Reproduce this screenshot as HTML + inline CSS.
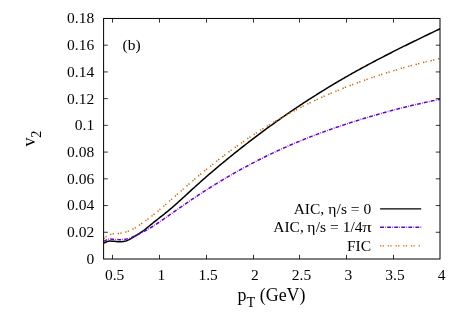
<!DOCTYPE html>
<html><head><meta charset="utf-8"><title>v2 vs pT</title>
<style>
html,body{margin:0;padding:0;background:#fff;}
body{width:463px;height:324px;overflow:hidden;position:relative;font-family:"Liberation Serif",serif;}
</style></head><body>
<svg width="463" height="324" viewBox="0 0 463 324" style="position:absolute;left:0;top:0;will-change:transform">
<rect width="463" height="324" fill="#fff"/>
<path d="M112.50,259.0 v-4.2 M112.50,18.45 v4.2 M159.50,259.0 v-4.2 M159.50,18.45 v4.2 M206.50,259.0 v-4.2 M206.50,18.45 v4.2 M253.50,259.0 v-4.2 M253.50,18.45 v4.2 M299.50,259.0 v-4.2 M299.50,18.45 v4.2 M346.50,259.0 v-4.2 M346.50,18.45 v4.2 M393.50,259.0 v-4.2 M393.50,18.45 v4.2 M103.6,232.27 h4.2 M440.0,232.27 h-4.2 M103.6,205.54 h4.2 M440.0,205.54 h-4.2 M103.6,178.82 h4.2 M440.0,178.82 h-4.2 M103.6,152.09 h4.2 M440.0,152.09 h-4.2 M103.6,125.36 h4.2 M440.0,125.36 h-4.2 M103.6,98.63 h4.2 M440.0,98.63 h-4.2 M103.6,71.91 h4.2 M440.0,71.91 h-4.2 M103.6,45.18 h4.2 M440.0,45.18 h-4.2" stroke="#000" stroke-width="0.8" fill="none"/>
<path d="M103.60,243.02 L104.60,242.70 L105.60,242.27 L106.60,241.80 L107.60,241.40 L108.60,241.16 L109.60,241.08 L110.60,241.10 L111.60,241.18 L112.60,241.25 L113.60,241.31 L114.60,241.37 L115.60,241.44 L116.60,241.54 L117.60,241.66 L118.60,241.76 L119.60,241.81 L120.60,241.80 L121.60,241.71 L122.60,241.57 L123.60,241.39 L124.60,241.19 L125.60,240.97 L126.60,240.70 L127.60,240.36 L128.60,239.92 L129.60,239.40 L130.60,238.83 L131.60,238.22 L132.60,237.62 L133.60,237.03 L134.60,236.44 L135.60,235.85 L136.60,235.25 L137.60,234.63 L138.60,234.00 L139.60,233.35 L140.60,232.67 L141.60,231.98 L142.60,231.26 L143.60,230.51 L144.60,229.75 L145.60,228.97 L146.60,228.17 L147.60,227.36 L148.60,226.54 L149.60,225.72 L150.60,224.89 L151.60,224.07 L152.60,223.26 L153.60,222.45 L154.60,221.65 L155.60,220.86 L156.60,220.07 L157.60,219.28 L158.60,218.49 L159.60,217.70 L160.60,216.92 L161.60,216.13 L162.60,215.34 L163.60,214.55 L164.60,213.75 L165.60,212.94 L166.60,212.13 L167.60,211.32 L168.60,210.49 L169.60,209.65 L170.60,208.81 L171.60,207.96 L172.60,207.09 L173.60,206.23 L174.60,205.35 L175.60,204.47 L176.60,203.59 L177.60,202.69 L178.60,201.80 L179.60,200.90 L180.60,199.99 L181.60,199.09 L182.60,198.17 L183.60,197.26 L184.60,196.35 L185.60,195.43 L186.60,194.51 L187.60,193.59 L188.60,192.67 L189.60,191.76 L190.60,190.84 L191.60,189.92 L192.60,189.01 L193.60,188.10 L194.60,187.19 L195.60,186.28 L196.60,185.38 L197.60,184.48 L198.60,183.58 L199.60,182.69 L200.60,181.80 L201.60,180.91 L202.60,180.03 L203.60,179.15 L204.60,178.27 L205.60,177.39 L206.60,176.52 L207.60,175.65 L208.60,174.79 L209.60,173.93 L210.60,173.07 L211.60,172.21 L212.60,171.35 L213.60,170.50 L214.60,169.65 L215.60,168.81 L216.60,167.96 L217.60,167.12 L218.60,166.28 L219.60,165.45 L220.60,164.62 L221.60,163.79 L222.60,162.96 L223.60,162.13 L224.60,161.31 L225.60,160.49 L226.60,159.67 L227.60,158.85 L228.60,158.04 L229.60,157.23 L230.60,156.42 L231.60,155.61 L232.60,154.81 L233.60,154.00 L234.60,153.20 L235.60,152.40 L236.60,151.61 L237.60,150.81 L238.60,150.02 L239.60,149.23 L240.60,148.44 L241.60,147.66 L242.60,146.87 L243.60,146.09 L244.60,145.31 L245.60,144.53 L246.60,143.76 L247.60,142.98 L248.60,142.21 L249.60,141.44 L250.60,140.67 L251.60,139.91 L252.60,139.14 L253.60,138.38 L254.60,137.62 L255.60,136.87 L256.60,136.11 L257.60,135.36 L258.60,134.61 L259.60,133.86 L260.60,133.11 L261.60,132.37 L262.60,131.62 L263.60,130.88 L264.60,130.14 L265.60,129.41 L266.60,128.67 L267.60,127.94 L268.60,127.21 L269.60,126.48 L270.60,125.76 L271.60,125.03 L272.60,124.31 L273.60,123.59 L274.60,122.87 L275.60,122.16 L276.60,121.45 L277.60,120.73 L278.60,120.03 L279.60,119.32 L280.60,118.61 L281.60,117.91 L282.60,117.21 L283.60,116.51 L284.60,115.81 L285.60,115.12 L286.60,114.43 L287.60,113.74 L288.60,113.05 L289.60,112.36 L290.60,111.68 L291.60,111.00 L292.60,110.32 L293.60,109.64 L294.60,108.97 L295.60,108.29 L296.60,107.62 L297.60,106.95 L298.60,106.28 L299.60,105.62 L300.60,104.96 L301.60,104.30 L302.60,103.64 L303.60,102.98 L304.60,102.33 L305.60,101.67 L306.60,101.02 L307.60,100.37 L308.60,99.73 L309.60,99.08 L310.60,98.44 L311.60,97.80 L312.60,97.16 L313.60,96.52 L314.60,95.89 L315.60,95.26 L316.60,94.63 L317.60,94.00 L318.60,93.37 L319.60,92.75 L320.60,92.12 L321.60,91.50 L322.60,90.88 L323.60,90.27 L324.60,89.65 L325.60,89.04 L326.60,88.43 L327.60,87.82 L328.60,87.21 L329.60,86.61 L330.60,86.00 L331.60,85.40 L332.60,84.80 L333.60,84.20 L334.60,83.61 L335.60,83.01 L336.60,82.42 L337.60,81.83 L338.60,81.24 L339.60,80.66 L340.60,80.07 L341.60,79.49 L342.60,78.91 L343.60,78.33 L344.60,77.75 L345.60,77.18 L346.60,76.61 L347.60,76.03 L348.60,75.46 L349.60,74.90 L350.60,74.33 L351.60,73.77 L352.60,73.20 L353.60,72.64 L354.60,72.08 L355.60,71.53 L356.60,70.97 L357.60,70.42 L358.60,69.87 L359.60,69.32 L360.60,68.77 L361.60,68.22 L362.60,67.67 L363.60,67.13 L364.60,66.59 L365.60,66.05 L366.60,65.51 L367.60,64.97 L368.60,64.43 L369.60,63.90 L370.60,63.36 L371.60,62.83 L372.60,62.30 L373.60,61.77 L374.60,61.24 L375.60,60.72 L376.60,60.19 L377.60,59.67 L378.60,59.14 L379.60,58.62 L380.60,58.10 L381.60,57.58 L382.60,57.07 L383.60,56.55 L384.60,56.04 L385.60,55.52 L386.60,55.01 L387.60,54.50 L388.60,53.99 L389.60,53.48 L390.60,52.97 L391.60,52.46 L392.60,51.95 L393.60,51.45 L394.60,50.94 L395.60,50.44 L396.60,49.94 L397.60,49.44 L398.60,48.94 L399.60,48.44 L400.60,47.94 L401.60,47.44 L402.60,46.94 L403.60,46.45 L404.60,45.95 L405.60,45.46 L406.60,44.96 L407.60,44.47 L408.60,43.98 L409.60,43.49 L410.60,43.00 L411.60,42.51 L412.60,42.02 L413.60,41.53 L414.60,41.04 L415.60,40.55 L416.60,40.07 L417.60,39.58 L418.60,39.09 L419.60,38.61 L420.60,38.12 L421.60,37.64 L422.60,37.16 L423.60,36.67 L424.60,36.19 L425.60,35.71 L426.60,35.23 L427.60,34.75 L428.60,34.26 L429.60,33.78 L430.60,33.30 L431.60,32.82 L432.60,32.34 L433.60,31.86 L434.60,31.38 L435.60,30.90 L436.60,30.43 L437.60,29.95 L438.60,29.47 L439.60,28.99 L440.00,28.80" stroke="#000" stroke-width="1.5" fill="none"/>
<path d="M103.60,241.34 L104.60,240.92 L105.60,240.42 L106.60,239.92 L107.60,239.49 L108.60,239.22 L109.60,239.11 L110.60,239.10 L111.60,239.16 L112.60,239.23 L113.60,239.30 L114.60,239.37 L115.60,239.44 L116.60,239.51 L117.60,239.58 L118.60,239.63 L119.60,239.65 L120.60,239.65 L121.60,239.61 L122.60,239.54 L123.60,239.45 L124.60,239.35 L125.60,239.23 L126.60,239.08 L127.60,238.87 L128.60,238.60 L129.60,238.26 L130.60,237.87 L131.60,237.43 L132.60,236.95 L133.60,236.46 L134.60,235.95 L135.60,235.44 L136.60,234.94 L137.60,234.46 L138.60,233.99 L139.60,233.54 L140.60,233.08 L141.60,232.63 L142.60,232.16 L143.60,231.67 L144.60,231.17 L145.60,230.64 L146.60,230.09 L147.60,229.53 L148.60,228.95 L149.60,228.36 L150.60,227.75 L151.60,227.13 L152.60,226.51 L153.60,225.87 L154.60,225.23 L155.60,224.57 L156.60,223.91 L157.60,223.25 L158.60,222.57 L159.60,221.90 L160.60,221.21 L161.60,220.52 L162.60,219.83 L163.60,219.14 L164.60,218.44 L165.60,217.74 L166.60,217.04 L167.60,216.34 L168.60,215.64 L169.60,214.93 L170.60,214.23 L171.60,213.53 L172.60,212.82 L173.60,212.12 L174.60,211.42 L175.60,210.72 L176.60,210.02 L177.60,209.32 L178.60,208.62 L179.60,207.92 L180.60,207.22 L181.60,206.53 L182.60,205.83 L183.60,205.14 L184.60,204.45 L185.60,203.76 L186.60,203.07 L187.60,202.38 L188.60,201.70 L189.60,201.01 L190.60,200.33 L191.60,199.65 L192.60,198.98 L193.60,198.30 L194.60,197.63 L195.60,196.96 L196.60,196.30 L197.60,195.63 L198.60,194.97 L199.60,194.31 L200.60,193.66 L201.60,193.01 L202.60,192.36 L203.60,191.71 L204.60,191.06 L205.60,190.42 L206.60,189.78 L207.60,189.15 L208.60,188.51 L209.60,187.88 L210.60,187.25 L211.60,186.62 L212.60,186.00 L213.60,185.38 L214.60,184.76 L215.60,184.14 L216.60,183.53 L217.60,182.92 L218.60,182.31 L219.60,181.71 L220.60,181.10 L221.60,180.50 L222.60,179.90 L223.60,179.31 L224.60,178.71 L225.60,178.12 L226.60,177.54 L227.60,176.95 L228.60,176.37 L229.60,175.79 L230.60,175.21 L231.60,174.63 L232.60,174.06 L233.60,173.49 L234.60,172.92 L235.60,172.35 L236.60,171.79 L237.60,171.23 L238.60,170.67 L239.60,170.12 L240.60,169.56 L241.60,169.01 L242.60,168.46 L243.60,167.92 L244.60,167.37 L245.60,166.83 L246.60,166.29 L247.60,165.76 L248.60,165.22 L249.60,164.69 L250.60,164.16 L251.60,163.63 L252.60,163.11 L253.60,162.59 L254.60,162.07 L255.60,161.55 L256.60,161.04 L257.60,160.52 L258.60,160.02 L259.60,159.51 L260.60,159.00 L261.60,158.50 L262.60,158.00 L263.60,157.50 L264.60,157.01 L265.60,156.51 L266.60,156.02 L267.60,155.54 L268.60,155.05 L269.60,154.57 L270.60,154.09 L271.60,153.61 L272.60,153.13 L273.60,152.66 L274.60,152.19 L275.60,151.72 L276.60,151.25 L277.60,150.79 L278.60,150.33 L279.60,149.87 L280.60,149.41 L281.60,148.95 L282.60,148.50 L283.60,148.05 L284.60,147.60 L285.60,147.16 L286.60,146.72 L287.60,146.28 L288.60,145.84 L289.60,145.40 L290.60,144.97 L291.60,144.54 L292.60,144.11 L293.60,143.68 L294.60,143.26 L295.60,142.84 L296.60,142.42 L297.60,142.00 L298.60,141.59 L299.60,141.17 L300.60,140.76 L301.60,140.35 L302.60,139.95 L303.60,139.54 L304.60,139.14 L305.60,138.74 L306.60,138.34 L307.60,137.95 L308.60,137.55 L309.60,137.16 L310.60,136.77 L311.60,136.39 L312.60,136.00 L313.60,135.62 L314.60,135.23 L315.60,134.85 L316.60,134.48 L317.60,134.10 L318.60,133.73 L319.60,133.35 L320.60,132.98 L321.60,132.62 L322.60,132.25 L323.60,131.88 L324.60,131.52 L325.60,131.16 L326.60,130.80 L327.60,130.44 L328.60,130.09 L329.60,129.73 L330.60,129.38 L331.60,129.03 L332.60,128.68 L333.60,128.33 L334.60,127.98 L335.60,127.64 L336.60,127.30 L337.60,126.96 L338.60,126.62 L339.60,126.28 L340.60,125.94 L341.60,125.61 L342.60,125.27 L343.60,124.94 L344.60,124.61 L345.60,124.28 L346.60,123.95 L347.60,123.62 L348.60,123.30 L349.60,122.97 L350.60,122.65 L351.60,122.33 L352.60,122.01 L353.60,121.69 L354.60,121.37 L355.60,121.06 L356.60,120.74 L357.60,120.43 L358.60,120.12 L359.60,119.81 L360.60,119.50 L361.60,119.19 L362.60,118.88 L363.60,118.58 L364.60,118.28 L365.60,117.97 L366.60,117.67 L367.60,117.37 L368.60,117.07 L369.60,116.78 L370.60,116.48 L371.60,116.19 L372.60,115.89 L373.60,115.60 L374.60,115.31 L375.60,115.02 L376.60,114.74 L377.60,114.45 L378.60,114.16 L379.60,113.88 L380.60,113.60 L381.60,113.32 L382.60,113.04 L383.60,112.76 L384.60,112.48 L385.60,112.21 L386.60,111.94 L387.60,111.66 L388.60,111.39 L389.60,111.12 L390.60,110.85 L391.60,110.59 L392.60,110.32 L393.60,110.06 L394.60,109.79 L395.60,109.53 L396.60,109.27 L397.60,109.01 L398.60,108.76 L399.60,108.50 L400.60,108.25 L401.60,107.99 L402.60,107.74 L403.60,107.49 L404.60,107.24 L405.60,106.99 L406.60,106.75 L407.60,106.50 L408.60,106.26 L409.60,106.02 L410.60,105.78 L411.60,105.54 L412.60,105.30 L413.60,105.06 L414.60,104.83 L415.60,104.59 L416.60,104.36 L417.60,104.13 L418.60,103.90 L419.60,103.67 L420.60,103.45 L421.60,103.22 L422.60,103.00 L423.60,102.77 L424.60,102.55 L425.60,102.33 L426.60,102.12 L427.60,101.90 L428.60,101.68 L429.60,101.47 L430.60,101.26 L431.60,101.05 L432.60,100.84 L433.60,100.63 L434.60,100.42 L435.60,100.21 L436.60,100.01 L437.60,99.81 L438.60,99.61 L439.60,99.41 L440.00,99.33" stroke="#6600cc" stroke-width="1.5" fill="none" stroke-dasharray="3.852 1.284 0.642 1.284"/>
<path d="M103.60,238.59 L104.60,237.76 L105.60,237.01 L106.60,236.34 L107.60,235.75 L108.60,235.24 L109.60,234.82 L110.60,234.47 L111.60,234.19 L112.60,233.98 L113.60,233.83 L114.60,233.72 L115.60,233.64 L116.60,233.58 L117.60,233.52 L118.60,233.46 L119.60,233.38 L120.60,233.26 L121.60,233.11 L122.60,232.92 L123.60,232.70 L124.60,232.43 L125.60,232.13 L126.60,231.80 L127.60,231.43 L128.60,231.04 L129.60,230.63 L130.60,230.19 L131.60,229.71 L132.60,229.21 L133.60,228.68 L134.60,228.12 L135.60,227.54 L136.60,226.93 L137.60,226.31 L138.60,225.67 L139.60,225.02 L140.60,224.35 L141.60,223.66 L142.60,222.97 L143.60,222.26 L144.60,221.55 L145.60,220.82 L146.60,220.08 L147.60,219.33 L148.60,218.58 L149.60,217.81 L150.60,217.03 L151.60,216.25 L152.60,215.45 L153.60,214.65 L154.60,213.84 L155.60,213.02 L156.60,212.20 L157.60,211.37 L158.60,210.53 L159.60,209.68 L160.60,208.83 L161.60,207.98 L162.60,207.12 L163.60,206.26 L164.60,205.39 L165.60,204.53 L166.60,203.66 L167.60,202.78 L168.60,201.91 L169.60,201.03 L170.60,200.16 L171.60,199.28 L172.60,198.40 L173.60,197.52 L174.60,196.64 L175.60,195.77 L176.60,194.89 L177.60,194.01 L178.60,193.13 L179.60,192.25 L180.60,191.37 L181.60,190.50 L182.60,189.62 L183.60,188.75 L184.60,187.87 L185.60,187.00 L186.60,186.13 L187.60,185.26 L188.60,184.39 L189.60,183.53 L190.60,182.66 L191.60,181.80 L192.60,180.95 L193.60,180.09 L194.60,179.24 L195.60,178.39 L196.60,177.54 L197.60,176.70 L198.60,175.86 L199.60,175.02 L200.60,174.18 L201.60,173.35 L202.60,172.53 L203.60,171.70 L204.60,170.88 L205.60,170.06 L206.60,169.24 L207.60,168.43 L208.60,167.62 L209.60,166.82 L210.60,166.01 L211.60,165.21 L212.60,164.42 L213.60,163.63 L214.60,162.84 L215.60,162.05 L216.60,161.27 L217.60,160.49 L218.60,159.71 L219.60,158.94 L220.60,158.17 L221.60,157.40 L222.60,156.64 L223.60,155.88 L224.60,155.12 L225.60,154.37 L226.60,153.62 L227.60,152.87 L228.60,152.13 L229.60,151.39 L230.60,150.65 L231.60,149.92 L232.60,149.19 L233.60,148.47 L234.60,147.74 L235.60,147.02 L236.60,146.31 L237.60,145.60 L238.60,144.89 L239.60,144.18 L240.60,143.48 L241.60,142.79 L242.60,142.09 L243.60,141.40 L244.60,140.71 L245.60,140.03 L246.60,139.35 L247.60,138.67 L248.60,138.00 L249.60,137.33 L250.60,136.66 L251.60,136.00 L252.60,135.34 L253.60,134.68 L254.60,134.03 L255.60,133.38 L256.60,132.73 L257.60,132.09 L258.60,131.45 L259.60,130.81 L260.60,130.17 L261.60,129.54 L262.60,128.92 L263.60,128.29 L264.60,127.67 L265.60,127.06 L266.60,126.44 L267.60,125.83 L268.60,125.22 L269.60,124.62 L270.60,124.02 L271.60,123.42 L272.60,122.83 L273.60,122.23 L274.60,121.65 L275.60,121.06 L276.60,120.48 L277.60,119.90 L278.60,119.32 L279.60,118.75 L280.60,118.18 L281.60,117.62 L282.60,117.05 L283.60,116.49 L284.60,115.94 L285.60,115.38 L286.60,114.83 L287.60,114.28 L288.60,113.74 L289.60,113.20 L290.60,112.66 L291.60,112.12 L292.60,111.59 L293.60,111.06 L294.60,110.53 L295.60,110.01 L296.60,109.49 L297.60,108.97 L298.60,108.46 L299.60,107.95 L300.60,107.44 L301.60,106.93 L302.60,106.43 L303.60,105.93 L304.60,105.43 L305.60,104.93 L306.60,104.44 L307.60,103.95 L308.60,103.47 L309.60,102.98 L310.60,102.50 L311.60,102.02 L312.60,101.55 L313.60,101.08 L314.60,100.61 L315.60,100.14 L316.60,99.67 L317.60,99.21 L318.60,98.75 L319.60,98.30 L320.60,97.84 L321.60,97.39 L322.60,96.94 L323.60,96.49 L324.60,96.05 L325.60,95.61 L326.60,95.17 L327.60,94.73 L328.60,94.30 L329.60,93.87 L330.60,93.44 L331.60,93.01 L332.60,92.58 L333.60,92.16 L334.60,91.74 L335.60,91.32 L336.60,90.91 L337.60,90.50 L338.60,90.09 L339.60,89.68 L340.60,89.27 L341.60,88.87 L342.60,88.47 L343.60,88.07 L344.60,87.67 L345.60,87.28 L346.60,86.88 L347.60,86.49 L348.60,86.10 L349.60,85.72 L350.60,85.33 L351.60,84.95 L352.60,84.57 L353.60,84.19 L354.60,83.82 L355.60,83.44 L356.60,83.07 L357.60,82.70 L358.60,82.34 L359.60,81.97 L360.60,81.61 L361.60,81.25 L362.60,80.89 L363.60,80.53 L364.60,80.17 L365.60,79.82 L366.60,79.47 L367.60,79.12 L368.60,78.77 L369.60,78.42 L370.60,78.08 L371.60,77.74 L372.60,77.40 L373.60,77.06 L374.60,76.73 L375.60,76.39 L376.60,76.06 L377.60,75.73 L378.60,75.40 L379.60,75.07 L380.60,74.75 L381.60,74.42 L382.60,74.10 L383.60,73.78 L384.60,73.47 L385.60,73.15 L386.60,72.84 L387.60,72.52 L388.60,72.21 L389.60,71.91 L390.60,71.60 L391.60,71.29 L392.60,70.99 L393.60,70.69 L394.60,70.39 L395.60,70.09 L396.60,69.79 L397.60,69.50 L398.60,69.21 L399.60,68.91 L400.60,68.62 L401.60,68.34 L402.60,68.05 L403.60,67.76 L404.60,67.48 L405.60,67.20 L406.60,66.92 L407.60,66.64 L408.60,66.36 L409.60,66.09 L410.60,65.82 L411.60,65.54 L412.60,65.27 L413.60,65.00 L414.60,64.74 L415.60,64.47 L416.60,64.21 L417.60,63.94 L418.60,63.68 L419.60,63.42 L420.60,63.16 L421.60,62.91 L422.60,62.65 L423.60,62.40 L424.60,62.15 L425.60,61.89 L426.60,61.64 L427.60,61.40 L428.60,61.15 L429.60,60.90 L430.60,60.66 L431.60,60.42 L432.60,60.18 L433.60,59.94 L434.60,59.70 L435.60,59.46 L436.60,59.23 L437.60,58.99 L438.60,58.76 L439.60,58.53 L440.00,58.43" stroke="#cc6600" stroke-width="1.5" fill="none" stroke-dasharray="1.284 1.284 1.284 3.852"/>
<path d="M380.1,208.8 H421.2" stroke="#000" stroke-width="1.35" fill="none"/>
<path d="M380.1,227.2 H421.2" stroke="#6600cc" stroke-width="1.35" fill="none" stroke-dasharray="3.852 1.284 0.642 1.284"/>
<path d="M380.1,245.8 H421.2" stroke="#cc6600" stroke-width="1.35" fill="none" stroke-dasharray="1.284 1.284 1.284 3.852"/>
<rect x="103.6" y="18.45" width="336.40" height="240.55" fill="none" stroke="#000" stroke-width="1"/>
<g font-family="Liberation Serif, serif" font-size="15.5" fill="#000">
<text x="94.2" y="263.90" text-anchor="end">0</text>
<text x="94.2" y="237.17" text-anchor="end">0.02</text>
<text x="94.2" y="210.44" text-anchor="end">0.04</text>
<text x="94.2" y="183.72" text-anchor="end">0.06</text>
<text x="94.2" y="156.99" text-anchor="end">0.08</text>
<text x="94.2" y="130.26" text-anchor="end">0.1</text>
<text x="94.2" y="103.53" text-anchor="end">0.12</text>
<text x="94.2" y="76.81" text-anchor="end">0.14</text>
<text x="94.2" y="50.08" text-anchor="end">0.16</text>
<text x="94.2" y="23.35" text-anchor="end">0.18</text>
<text x="114.64" y="280.2" text-anchor="middle">0.5</text>
<text x="161.37" y="280.2" text-anchor="middle">1</text>
<text x="208.09" y="280.2" text-anchor="middle">1.5</text>
<text x="254.81" y="280.2" text-anchor="middle">2</text>
<text x="301.53" y="280.2" text-anchor="middle">2.5</text>
<text x="348.26" y="280.2" text-anchor="middle">3</text>
<text x="394.98" y="280.2" text-anchor="middle">3.5</text>
<text x="441.70" y="280.2" text-anchor="middle">4</text>
<text x="122.6" y="50.1">(b)</text>
<text y="213.8"><tspan x="293.65">AIC,</tspan><tspan x="328.3">η</tspan><tspan x="371.2" text-anchor="end">/s = 0</tspan></text>
<text y="232.4"><tspan x="273.25">AIC,</tspan><tspan x="307.15">η</tspan><tspan x="362.45" text-anchor="end">/s = 1/4</tspan><tspan x="362.25" textLength="9.45" lengthAdjust="spacingAndGlyphs">π</tspan></text>
<text x="371.05" y="251.0" text-anchor="end">FIC</text>
</g>
<g font-family="Liberation Serif, serif" font-size="17.9" fill="#000">
<text x="237.6" y="301.3">p<tspan font-size="14.32" dy="6.1">T</tspan><tspan dy="-6.1"> (GeV)</tspan></text>
<text transform="translate(35.2,146.6) rotate(-90)">v<tspan font-size="14.32" dy="5.5">2</tspan></text>
</g>
</svg>
</body></html>
